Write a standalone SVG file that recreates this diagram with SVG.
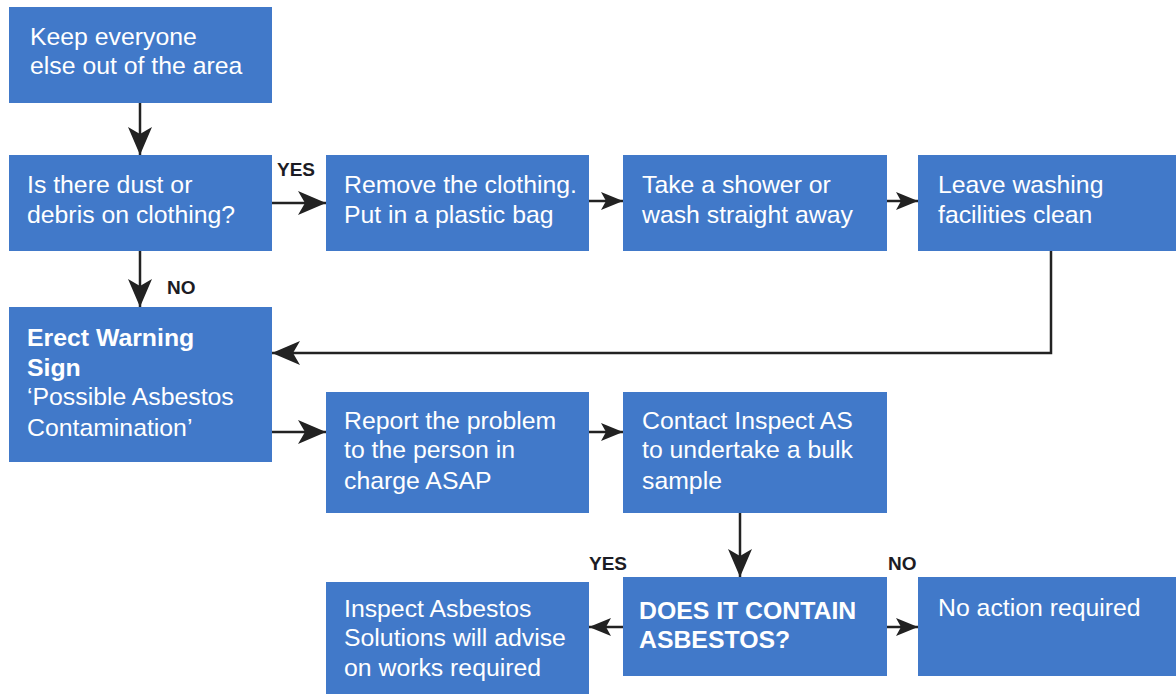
<svg xmlns="http://www.w3.org/2000/svg" width="1176" height="694" viewBox="0 0 1176 694">
<style>
.box{fill:#4179C9}
.t{font-family:"Liberation Sans",Arial,sans-serif;font-size:24.8px;fill:#ffffff}
.b{font-weight:bold}
.lbl{font-family:"Liberation Sans",Arial,sans-serif;font-size:19px;font-weight:bold;fill:#1c1c24}
.c{fill:none;stroke:#222222;stroke-width:2.5}
</style>
<defs>
<marker id="big" markerUnits="userSpaceOnUse" markerWidth="30" markerHeight="26" refX="28" refY="12" orient="auto">
<path d="M0,0 L28,12 L0,24 L7,12 z" fill="#222222"/>
</marker>
<marker id="med" markerUnits="userSpaceOnUse" markerWidth="24" markerHeight="20" refX="22" refY="9" orient="auto">
<path d="M0,0 L22,9 L0,18 L5,9 z" fill="#222222"/>
</marker>
</defs>
<g id="connectors">
<line class="c" x1="140" y1="103" x2="140" y2="155" marker-end="url(#big)"/>
<line class="c" x1="140" y1="251" x2="140" y2="307" marker-end="url(#big)"/>
<line class="c" x1="272" y1="203" x2="326" y2="203" marker-end="url(#big)"/>
<line class="c" x1="589" y1="201" x2="623" y2="201" marker-end="url(#med)"/>
<line class="c" x1="887" y1="201" x2="918" y2="201" marker-end="url(#med)"/>
<polyline class="c" points="1051,251 1051,353 272,353" marker-end="url(#big)"/>
<line class="c" x1="272" y1="432" x2="326" y2="432" marker-end="url(#big)"/>
<line class="c" x1="589" y1="432" x2="623" y2="432" marker-end="url(#med)"/>
<line class="c" x1="740" y1="513" x2="740" y2="577" marker-end="url(#big)"/>
<line class="c" x1="623" y1="627" x2="589" y2="627" marker-end="url(#med)"/>
<line class="c" x1="887" y1="627" x2="918" y2="627" marker-end="url(#med)"/>
<text class="lbl" x="277" y="176">YES</text>
<text class="lbl" x="167" y="294">NO</text>
<text class="lbl" x="589" y="570">YES</text>
<text class="lbl" x="888" y="570">NO</text>
</g>
<g id="n1"><rect class="box" x="9" y="7" width="263" height="96"/>
<text class="t" x="30" y="45">Keep everyone</text><text class="t" x="30" y="74">else out of the area</text></g>
<g id="n2"><rect class="box" x="9" y="155" width="263" height="96"/>
<text class="t" x="27" y="193">Is there dust or</text><text class="t" x="27" y="223">debris on clothing?</text></g>
<g id="n3"><rect class="box" x="326" y="155" width="263" height="96"/>
<text class="t" x="344" y="193">Remove the clothing.</text><text class="t" x="344" y="223">Put in a plastic bag</text></g>
<g id="n4"><rect class="box" x="623" y="155" width="264" height="96"/>
<text class="t" x="642" y="193">Take a shower or</text><text class="t" x="642" y="223">wash straight away</text></g>
<g id="n5"><rect class="box" x="918" y="155" width="258" height="96"/>
<text class="t" x="938" y="193">Leave washing</text><text class="t" x="938" y="223">facilities clean</text></g>
<g id="n6"><rect class="box" x="9" y="307" width="263" height="155"/>
<text class="t b" x="27" y="346">Erect Warning</text><text class="t b" x="27" y="376">Sign</text>
<text class="t" x="27" y="405">‘Possible Asbestos</text><text class="t" x="27" y="436">Contamination’</text></g>
<g id="n7"><rect class="box" x="326" y="392" width="263" height="121"/>
<text class="t" x="344" y="429">Report the problem</text><text class="t" x="344" y="458">to the person in</text><text class="t" x="344" y="489">charge ASAP</text></g>
<g id="n8"><rect class="box" x="623" y="392" width="264" height="121"/>
<text class="t" x="642" y="429">Contact Inspect AS</text><text class="t" x="642" y="458">to undertake a bulk</text><text class="t" x="642" y="489">sample</text></g>
<g id="n9"><rect class="box" x="623" y="577" width="264" height="99"/>
<text class="t b" x="639" y="619">DOES IT CONTAIN</text><text class="t b" x="639" y="648">ASBESTOS?</text></g>
<g id="n10"><rect class="box" x="918" y="577" width="258" height="99"/>
<text class="t" x="938" y="616">No action required</text></g>
<g id="n11"><rect class="box" x="326" y="582" width="263" height="112"/>
<text class="t" x="344" y="617">Inspect Asbestos</text><text class="t" x="344" y="646">Solutions will advise</text><text class="t" x="344" y="676">on works required</text></g>
</svg>
